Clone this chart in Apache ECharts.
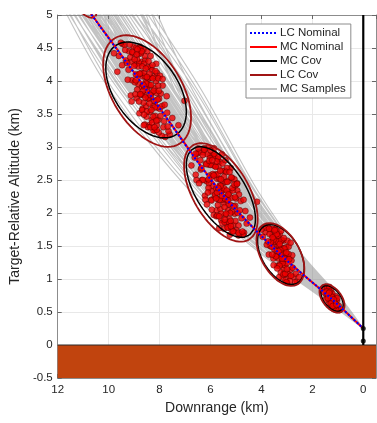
<!DOCTYPE html>
<html><head><meta charset="utf-8">
<script src="https://cdn.jsdelivr.net/npm/echarts@6/dist/echarts.min.js"></script>
<style>html,body{margin:0;padding:0;background:#fff}#c{width:377px;height:423px}</style>
</head><body><div id="c"></div>
<script>
// ---- data (km) ----
const lcNominal = [[11.05,5.20],[8.50,3.86],[5.59,2.31],[3.25,1.37],[1.25,0.70],[0.00,0.25]];
const mcNominal = [[11.04,5.20],[8.49,3.86],[5.58,2.31],[3.25,1.37],[1.25,0.70],[0.00,0.25]];
// covariance ellipses: [cx, cy, majorX, majorY, minorX, minorY]
const lcCov = [
  [10.99,5.18,-0.451,-0.209,0.239,-0.078],
  [8.49,3.848,-1.281,-0.797,1.157,-0.281],
  [5.592,2.311,-1.103,-0.714,0.935,-0.218],
  [3.254,1.371,-0.672,-0.453,0.658,-0.148],
  [1.228,0.705,-0.397,-0.197,0.292,-0.089]
];
const mcCov = [
  [8.53,3.864,-1.208,-0.670,1.021,-0.279],
  [5.592,2.318,-1.095,-0.655,0.802,-0.203],
  [3.235,1.371,-0.662,-0.429,0.635,-0.148],
  [1.228,0.705,-0.358,-0.179,0.261,-0.079]
];
// MC sample trajectories: x at the shared altitude levels
const sampleLevels = [5.2,3.86,2.31,1.37,0.70,0.25];
const sampleX = [
  [11.85,9.60,6.45,3.80,1.50,0],[11.70,9.35,6.30,3.70,1.45,0],[11.60,9.50,6.10,3.60,1.40,0],
  [11.55,9.15,6.20,3.72,1.38,0],[11.45,9.25,5.95,3.50,1.42,0],[11.40,9.05,6.05,3.55,1.35,0],
  [11.30,8.95,5.90,3.45,1.33,0],[11.25,9.10,5.80,3.40,1.30,0],[11.20,8.85,5.85,3.48,1.28,0],
  [11.15,8.75,5.75,3.35,1.32,0],[11.10,8.80,5.70,3.30,1.27,0],[11.00,8.65,5.65,3.38,1.24,0],
  [10.95,8.60,5.55,3.28,1.26,0],[10.90,8.55,5.62,3.22,1.22,0],[10.85,8.45,5.50,3.26,1.20,0],
  [10.80,8.40,5.58,3.18,1.25,0],[10.70,8.35,5.45,3.20,1.18,0],[10.65,8.30,5.40,3.12,1.21,0],
  [10.55,8.20,5.48,3.15,1.16,0],[10.50,8.25,5.35,3.08,1.14,0],[10.45,8.10,5.30,3.10,1.17,0],
  [10.35,8.05,5.25,3.02,1.12,0],[10.30,7.95,5.20,3.05,1.10,0],[10.20,8.00,5.15,2.98,1.13,0],
  [10.15,7.85,5.10,2.95,1.08,0],[10.05,7.80,5.05,2.90,1.06,0],[10.00,7.70,4.95,2.92,1.09,0],
  [9.90,7.60,4.90,2.85,1.04,0],[9.80,7.50,4.80,2.80,1.02,0],[9.70,7.40,4.70,2.75,1.00,0],
  [9.55,7.25,4.60,2.68,0.98,0],[10.60,8.90,5.20,3.30,1.10,0],[11.35,8.20,5.80,3.00,1.30,0],
  [10.25,8.70,5.60,3.50,1.20,0],[11.05,7.90,5.95,2.90,1.35,0],[9.95,8.15,4.85,3.15,0.95,0],
  [11.75,9.80,6.60,3.90,1.55,0],[9.40,7.05,4.45,2.60,0.94,0],[9.00,7.20,4.90,2.90,1.05,0],
  [8.70,7.40,5.30,3.10,1.10,0],[11.65,9.45,6.35,3.75,1.47,0],[11.50,9.20,6.12,3.62,1.40,0],
  [11.35,9.00,6.00,3.52,1.37,0],[11.22,8.92,5.92,3.46,1.31,0],[11.12,8.70,5.78,3.40,1.29,0],
  [10.98,8.72,5.68,3.33,1.23,0],[10.88,8.50,5.60,3.30,1.24,0],[10.75,8.48,5.52,3.24,1.19,0],
  [10.62,8.38,5.50,3.17,1.22,0],[10.52,8.15,5.42,3.12,1.15,0],[10.40,8.12,5.36,3.06,1.16,0],
  [10.28,8.02,5.28,3.04,1.11,0],[10.10,7.90,5.18,2.97,1.07,0],[9.98,7.75,5.02,2.88,1.05,0],
  [9.85,7.65,4.98,2.86,1.03,0],[9.65,7.45,4.75,2.78,1.01,0],[9.20,7.15,4.65,2.72,0.99,0],
  [8.90,7.30,5.05,2.95,1.07,0],[11.45,8.60,5.45,3.35,1.26,0],[10.40,8.85,5.75,3.20,1.30,0],
  [11.90,9.95,6.75,3.98,1.58,0],[8.50,7.00,4.55,2.70,0.97,0],[9.30,6.80,4.40,2.55,0.92,0],
  [9.10,6.60,4.25,2.48,0.90,0],[8.80,6.50,4.20,2.45,0.88,0],[8.60,6.35,4.10,2.40,0.86,0],
  [9.50,6.95,4.50,2.62,0.95,0],[8.30,6.70,4.35,2.52,0.91,0],[8.95,6.90,4.60,2.65,0.93,0]
];
// MC dispersion points at four times
const mc1 = [[8.50,3.86],[8.45,4.03],[8.62,3.79],[8.38,3.53],[8.71,4.29],[8.29,3.83],[8.83,3.95],[8.12,3.82],[8.95,4.25],[8.05,3.41],[8.56,4.32],[8.41,3.33],[8.67,3.58],[8.22,4.07],[9.08,4.01],[7.95,3.81],[8.77,4.52],[8.18,3.25],[9.20,4.45],[7.82,3.39],[8.48,4.45],[8.58,3.34],[8.90,3.74],[8.10,4.12],[9.32,4.31],[7.70,3.52],[8.35,4.05],[8.66,4.07],[8.26,3.62],[8.80,4.27],[8.00,3.58],[9.02,4.52],[8.53,3.62],[8.44,3.92],[8.74,3.79],[8.15,3.70],[9.13,3.78],[7.88,3.93],[8.60,4.26],[8.31,3.41],[9.45,4.56],[7.60,3.19],[8.86,4.09],[8.20,3.89],[8.97,3.98],[8.06,3.93],[8.69,3.91],[8.36,4.21],[8.51,3.46],[9.25,4.02],[7.78,3.15],[8.92,4.50],[8.24,3.25],[8.64,4.48],[8.42,3.73],[9.10,4.29],[7.92,3.17],[8.57,4.07],[8.34,3.77],[8.79,3.51],[8.13,4.26],[9.60,4.38],[9.79,4.42],[7.50,3.44],[8.47,4.21],[8.72,4.12],[8.28,4.24],[8.03,3.22],[9.38,4.55],[8.88,3.87],[7.72,3.77],[8.55,3.98],[8.39,3.94],[8.63,3.67],[9.05,4.42],[8.17,3.47],[8.82,4.41],[8.09,3.60],[9.17,4.55],[7.98,4.08],[8.46,3.30],[8.75,4.50],[9.52,4.58],[7.65,3.24],[8.30,4.16],[8.68,3.56],[8.93,4.10],[8.21,3.70],[8.59,3.91],[8.11,3.26],[9.66,4.14],[9.47,4.24],[9.27,4.27],[7.26,3.33],[7.02,3.70],
  [8.52,3.96],[8.40,3.66],[8.60,4.12],[8.33,3.94],[8.70,3.80],[8.25,3.46],[8.78,4.11],[8.14,4.00],[8.88,4.33],[8.02,3.73],[8.49,3.54],[8.58,4.38],[8.36,3.30],[8.65,3.85],[8.27,4.04],[8.95,3.80],[8.08,3.72],[8.84,4.22],[8.19,3.60],[9.00,4.23],[7.90,3.62],[8.43,4.30],[8.61,3.49],[8.93,4.01],[8.05,4.04],[9.15,4.36],[7.80,3.64],[8.32,3.56],[8.73,4.42],[8.45,3.74],[8.68,4.22],[8.23,3.85],[9.22,4.17],[7.85,3.30],[8.54,4.19],[8.37,3.79],[8.81,3.69],[8.16,4.15],[9.07,4.44],[7.96,3.47],[8.64,3.94],[8.29,3.37],[8.98,4.33],[8.11,3.33],[8.56,3.75],[8.40,4.11],[8.76,3.80],[8.03,3.85],[9.35,4.47],[7.68,3.31],[8.50,4.06],[8.70,4.45],[8.20,3.30],[8.87,4.48],[8.35,4.38],[8.62,3.33],[9.10,3.69],[7.88,4.03],[8.90,4.40],[8.12,3.40]];
const mc2 = [[5.59,2.31],[5.50,2.46],[5.70,2.21],[5.42,1.97],[5.81,2.71],[5.33,2.25],[5.92,2.41],[5.18,2.23],[6.05,2.73],[5.10,1.82],[5.64,2.78],[5.47,1.76],[5.76,2.04],[5.28,2.49],[6.15,2.48],[5.00,2.22],[5.86,2.98],[5.24,1.67],[6.28,2.92],[4.90,1.81],[5.55,2.89],[5.66,1.77],[5.98,2.20],[5.15,2.53],[6.40,2.80],[4.78,1.92],[5.40,2.47],[5.74,2.52],[5.31,2.04],[5.88,2.72],[5.05,1.99],[6.10,2.99],[5.61,2.06],[5.51,2.35],[5.83,2.25],[5.21,2.12],[6.22,2.26],[4.95,2.34],[5.68,2.70],[5.37,1.84],[6.52,2.90],[4.68,1.70],[5.95,2.55],[5.26,2.31],[6.06,2.45],[5.12,2.34],[5.78,2.37],[5.43,2.64],[5.58,1.89],[6.34,2.50],[4.85,1.68],[6.00,2.88],[5.30,1.78],[5.72,2.82],[5.48,2.15],[6.18,2.75],[4.98,1.74],[5.65,2.52],[5.40,2.20],[5.87,1.97],[5.20,2.68],[6.62,2.84],[4.58,1.84],[5.53,2.64],[5.80,2.58],[5.35,2.68],[5.08,1.72],[6.45,2.92],[5.96,2.33],[4.81,2.18],[5.63,2.42],[5.46,2.37],[5.71,2.12],[6.13,2.89],[5.25,1.91],[5.90,2.87],[5.16,2.02],[6.25,2.98],[5.06,2.51],[5.54,1.85],[5.84,2.86],[6.58,2.90],[4.72,1.67],[5.38,2.62],[5.77,1.95],[6.02,2.57],[5.29,2.13],[5.67,2.36],[5.19,1.76],[4.63,2.03],[4.17,2.17],[4.45,1.93],[6.75,2.72],[6.30,2.50],[4.90,1.66],[6.08,2.38],[5.02,2.42],[5.44,1.86],[6.38,2.66],[4.88,2.28],[6.55,2.50],[6.58,2.58],[4.95,2.45],[6.20,2.20],[4.70,2.20],[6.45,2.45],[5.25,2.62],[5.95,2.05],
  [5.60,2.41],[5.45,2.09],[5.72,2.59],[5.36,2.34],[5.82,2.28],[5.27,1.86],[5.91,2.59],[5.14,2.38],[6.02,2.83],[5.03,2.11],[5.57,1.99],[5.69,2.85],[5.44,1.90],[5.74,2.31],[5.34,2.47],[6.10,2.31],[5.09,2.10],[6.00,2.73],[5.23,2.00],[6.16,2.74],[4.93,2.00],[5.52,2.75],[5.73,1.96],[6.08,2.51],[5.07,2.43],[6.30,2.88],[4.85,2.04],[5.39,1.99],[5.85,2.90],[5.56,2.20],[5.80,2.70],[5.30,2.28],[6.36,2.68],[4.90,1.70],[5.62,2.64],[5.44,2.22],[5.96,2.19],[5.18,2.54],[6.24,2.96],[5.02,1.88],[5.70,2.38],[5.33,1.78],[6.05,2.79],[5.12,1.72],[5.64,2.20],[5.47,2.55],[5.78,2.22],[5.04,2.24],[6.48,2.98],[4.75,1.72],[5.59,2.51],[5.76,2.78],[5.21,1.88],[5.93,2.80],[5.41,2.80],[5.66,1.95],[6.14,2.13],[4.96,2.44],[6.00,2.95],[5.20,1.80],[5.55,2.26],[5.87,2.57],[5.31,2.19]];
const mc3 = [[3.25,1.37],[3.19,1.47],[3.33,1.31],[3.13,1.14],[3.41,1.64],[3.06,1.32],[3.49,1.45],[2.96,1.31],[3.58,1.66],[2.90,1.04],[3.28,1.68],[3.16,1.02],[3.37,1.20],[3.03,1.48],[3.66,1.50],[2.82,1.28],[3.45,1.76],[2.99,0.95],[3.75,1.79],[2.75,1.03],[3.22,1.73],[3.30,1.03],[3.53,1.31],[2.93,1.49],[3.84,1.71],[2.65,1.08],[3.10,1.46],[3.36,1.51],[3.08,1.21],[3.47,1.66],[2.86,1.14],[3.62,1.75],[3.27,1.22],[3.20,1.39],[3.44,1.35],[3.00,1.24],[3.71,1.37],[2.79,1.36],[3.35,1.65],[3.11,1.07],[3.85,1.78],[2.60,0.96],[3.55,1.55],[3.04,1.38],[3.60,1.49],[2.94,1.38],[3.39,1.42],[3.14,1.58],[3.24,1.10],[3.79,1.52],[2.68,0.95],[3.57,1.76],[3.05,0.98],[3.42,1.74],[3.18,1.28],[3.68,1.68],[2.88,0.97],[3.31,1.51],[3.12,1.30],[3.52,1.21],[2.98,1.58],[4.00,1.75],[2.52,1.03],[3.23,1.58],[3.46,1.57],[3.02,0.95],[2.85,1.55],[3.95,1.64],
  [3.26,1.44],[3.17,1.24],[3.35,1.57],[3.09,1.31],[3.43,1.34],[3.02,1.40],[3.51,1.60],[2.97,1.08],[3.63,1.56],[3.29,1.20],[3.21,1.59],[3.40,1.68],[3.14,1.07],[3.58,1.37],[2.91,1.30],[3.70,1.76],[3.33,1.42],[3.07,1.08],[3.48,1.74],[2.84,1.05],[3.19,1.31],[3.56,1.63],[3.00,1.15],[3.38,1.16],[3.12,1.62],[3.74,1.57],[2.77,1.17],[3.28,1.53]];
const mc4 = [[1.25,0.70],[1.20,0.74],[1.31,0.68],[1.15,0.58],[1.38,0.84],[1.10,0.67],[1.45,0.76],[1.04,0.67],[1.50,0.86],[1.00,0.53],[1.27,0.83],[1.18,0.55],[1.35,0.63],[1.08,0.74],[1.42,0.88],[0.96,0.59],[1.23,0.66],[1.29,0.77],[1.13,0.65],[1.40,0.76],[1.55,0.80],[0.92,0.53],[1.33,0.88],[1.17,0.56],[1.22,0.78],[1.36,0.77],[1.07,0.53],[1.47,0.69],[1.02,0.71],[1.26,0.62],
  [1.24,0.73],[1.32,0.81],[1.16,0.69],[1.28,0.63],[1.12,0.59],[1.39,0.71],[1.20,0.59],[1.44,0.81],[1.05,0.61],[1.34,0.79]];
const groundLine = [[12,0],[-0.5,0]];
const targetLine = [[0,0],[0,5]];
const targetPts = [[0,0.25],[0,0.06]];

// ---- build series data ----
const GAP = ['-','-'];
function ellipse(e){
  const [cx,cy,ax,ay,bx,by]=e, p=[];
  for(let k=0;k<=72;k++){const t=k*Math.PI/36;p.push([cx+ax*Math.cos(t)+bx*Math.sin(t),cy+ay*Math.cos(t)+by*Math.sin(t)]);}
  p.push(GAP); return p;
}
const lcCovPts = lcCov.flatMap(ellipse);
const mcCovPts = mcCov.flatMap(ellipse);
const samplePts = sampleX.flatMap(xs => xs.map((x,i)=>[x,sampleLevels[i]]).concat([GAP]));

const FONT = 'Liberation Sans, Arial, Helvetica, sans-serif';
const TXT = '#262626';
const chart = echarts.init(document.getElementById('c'), null, {renderer:'canvas'});
const xBase = {type:'value', inverse:true, min:-0.5, max:12, splitNumber:6, minInterval:2, maxInterval:2};
const yBase = {type:'value', min:-0.5, max:5, interval:0.5};
chart.setOption({
  animation:false,
  backgroundColor:'#fff',
  textStyle:{fontFamily:FONT},
  grid:{left:55, right:1, top:15, bottom:45, containLabel:false},
  xAxis:[
    Object.assign({}, xBase, {position:'bottom',
      name:'Downrange (km)', nameLocation:'middle', nameGap:23,
      nameTextStyle:{fontSize:14, color:TXT, fontFamily:FONT},
      axisLine:{show:true, onZero:false, lineStyle:{color:'#8c8c8c', width:1}},
      axisTick:{show:true, inside:true, length:4, lineStyle:{color:'#666'}},
      axisLabel:{fontSize:11.5, color:TXT, margin:6, showMinLabel:false, fontFamily:FONT},
      splitLine:{show:true, lineStyle:{color:'#e8e8e8', width:1}}}),
    Object.assign({}, xBase, {position:'top',
      axisLine:{show:true, onZero:false, lineStyle:{color:'#8c8c8c', width:1}},
      axisTick:{show:true, inside:true, length:4, lineStyle:{color:'#666'}},
      axisLabel:{show:false}, splitLine:{show:false}})
  ],
  yAxis:[
    Object.assign({}, yBase, {position:'left',
      name:'Target-Relative Altitude (km)', nameLocation:'middle', nameGap:28,
      nameTextStyle:{fontSize:14, color:TXT, fontFamily:FONT},
      axisLine:{show:true, onZero:false, lineStyle:{color:'#8c8c8c', width:1}},
      axisTick:{show:true, inside:true, length:4, lineStyle:{color:'#666'}},
      axisLabel:{fontSize:11.5, color:TXT, margin:5, fontFamily:FONT},
      splitLine:{show:true, lineStyle:{color:'#e8e8e8', width:1}}}),
    Object.assign({}, yBase, {position:'right',
      axisLine:{show:true, onZero:false, lineStyle:{color:'#8c8c8c', width:1}},
      axisTick:{show:true, inside:true, length:4, lineStyle:{color:'#666'}},
      axisLabel:{show:false}, splitLine:{show:false}})
  ],
  legend:{
    data:['LC Nominal','MC Nominal','MC Cov','LC Cov','MC Samples'],
    orient:'vertical', left:246, top:24, itemWidth:27, itemHeight:12, itemGap:2,
    padding:[3,5,3,3], backgroundColor:'#fff', borderColor:'#8c8c8c', borderWidth:1,
    borderRadius:0, selectedMode:false,
    itemStyle:{opacity:0, borderWidth:0},
    textStyle:{fontSize:11.5, color:TXT, fontFamily:FONT, padding:[0,0,0,-2]}
  },
  series:[
    {name:'Ground', type:'line', data:groundLine, symbol:'none', silent:true, z:1,
     lineStyle:{color:'#2b2b2b', width:1}, areaStyle:{color:'#c1440e', opacity:1, origin:'start'}},
    {name:'MC Samples', type:'line', data:samplePts, smooth:0.3, symbol:'none', connectNulls:false, z:2,
     lineStyle:{color:'rgba(130,130,130,0.48)', width:1.1}},
    {name:'MC Points', type:'scatter', data:[...mc1,...mc2,...mc3,...mc4], symbolSize:6, z:3,
     itemStyle:{color:'#f00000', borderColor:'#300000', borderWidth:0.5}},
    {name:'MC Cov', type:'line', data:mcCovPts, symbol:'none', connectNulls:false, z:4,
     lineStyle:{color:'#000', width:1.5}},
    {name:'LC Cov', type:'line', data:lcCovPts, symbol:'none', connectNulls:false, z:5,
     lineStyle:{color:'#a01414', width:1.8}},
    {name:'MC Nominal', type:'line', data:mcNominal, smooth:0.3, symbol:'none', z:6,
     lineStyle:{color:'#ff0000', width:2}},
    {name:'LC Nominal', type:'line', data:lcNominal, smooth:0.3, symbol:'none', z:7,
     lineStyle:{color:'#0000ff', width:2, type:[2,2]}},
    {name:'Target', type:'line', data:targetLine, symbol:'none', z:8,
     lineStyle:{color:'#000', width:2.2}},
    {name:'Target Points', type:'scatter', data:targetPts, symbolSize:5, z:9,
     itemStyle:{color:'#000'}}
  ]
});
</script>
</body></html>
